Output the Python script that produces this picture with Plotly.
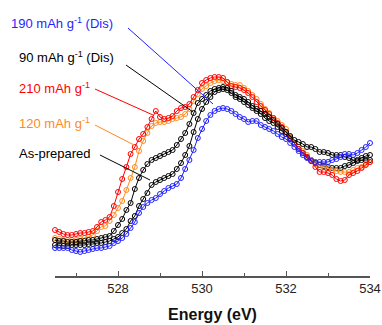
import numpy as np
import plotly.graph_objects as go

# Energy grid (eV), 0.1 eV steps
energy = np.round(526.5 + 0.1 * np.arange(76), 1)

# Normalised O K-edge intensities (a.u.)
as_prepared = [31, 31, 30, 30, 31, 31, 31, 31, 32, 32, 33, 33, 34, 35, 37, 39, 43, 47, 55, 60,
               70, 77, 83, 91, 94, 96, 98, 100, 102, 107, 113, 121, 130, 144, 157, 167, 174, 179, 184, 186,
               187, 186, 183, 179, 177, 174, 171, 168, 165, 162, 158, 155, 153, 149, 145, 142, 137, 133, 127, 123,
               119, 116, 113, 111, 110, 109, 108, 108, 108, 110, 111, 113, 115, 116, 116, 116]
chg_120 = [38, 37, 36, 36, 36, 36, 37, 38, 39, 41, 45, 49, 50, 55, 61, 68, 75, 86, 98, 109,
           125, 135, 143, 150, 153, 154, 154, 155, 157, 158, 159, 162, 167, 175, 182, 187, 190, 193, 195, 196,
           195, 194, 192, 191, 191, 188, 185, 181, 177, 172, 167, 163, 158, 155, 151, 147, 139, 133, 129, 125,
           121, 116, 112, 109, 109, 108, 106, 105, 104, 104, 104, 106, 108, 109, 112, 114]
chg_210 = [46, 44, 42, 41, 41, 42, 43, 43, 44, 45, 49, 54, 56, 59, 70, 84, 97, 109, 122, 129,
           137, 142, 149, 157, 165, 159, 157, 158, 160, 165, 168, 169, 172, 179, 186, 193, 196, 198, 199, 199,
           198, 194, 190, 189, 188, 186, 183, 179, 174, 170, 166, 162, 158, 153, 149, 144, 138, 132, 127, 123,
           119, 115, 109, 104, 104, 103, 101, 97, 95, 96, 101, 103, 105, 108, 111, 114]
dis_90 = [36, 35, 35, 34, 34, 34, 35, 35, 36, 36, 37, 38, 39, 40, 45, 51, 57, 66, 73, 87,
          98, 106, 112, 116, 118, 120, 122, 124, 126, 131, 137, 143, 152, 163, 173, 177, 181, 185, 187, 188,
          189, 188, 185, 181, 179, 177, 174, 170, 167, 165, 162, 159, 156, 152, 148, 144, 140, 136, 134, 132,
          129, 129, 127, 124, 124, 123, 121, 121, 121, 119, 118, 116, 116, 118, 120, 121]
dis_190 = [28, 28, 28, 28, 26, 25, 24, 25, 26, 27, 28, 28, 29, 30, 33, 35, 38, 42, 48, 54,
           63, 69, 73, 76, 78, 82, 85, 88, 90, 92, 98, 107, 116, 126, 138, 147, 155, 161, 165, 167,
           168, 167, 165, 162, 159, 157, 154, 155, 155, 151, 149, 147, 145, 142, 139, 137, 133, 129, 125, 121,
           118, 115, 114, 114, 114, 114, 116, 117, 119, 122, 122, 121, 123, 126, 129, 133]

labels = ["As-prepared", "120 mAh g<sup>-1</sup>", "210 mAh g<sup>-1</sup>",
          "90 mAh g<sup>-1</sup> (Dis)", "190 mAh g<sup>-1</sup> (Dis)"]
series = [as_prepared, chg_120, chg_210, dis_90, dis_190]
colors = ["#000000", "#ff8a1e", "#ff0000", "#000000", "#1f1fff"]

# label anchor (left edge, paper units) and leader-line endpoints (data units)
label_pos = [(-0.121, 0.477), (-0.121, 0.598), (-0.121, 0.734), (-0.121, 0.855), (-0.146, 0.99)]
leaders = [((527.571, 121), (528.762, 96)),
           ((527.452, 151), (528.381, 131)),
           ((527.452, 187), (528.833, 161)),
           ((528.19, 211), (529.786, 164)),
           ((528.238, 248), (530.262, 172))]

fig = go.Figure()
for name, ys, c in zip(labels, series, colors):
    fig.add_trace(go.Scatter(
        x=energy, y=ys, mode="lines+markers", name=name,
        line=dict(color=c, width=1),
        marker=dict(symbol="circle-open", size=5, color=c, line=dict(width=1)),
        cliponaxis=False, showlegend=False))

for name, c, (lx, ly), ((x0, y0), (x1, y1)) in zip(labels, colors, label_pos, leaders):
    fig.add_shape(type="line", xref="x", yref="y", x0=x0, y0=y0, x1=x1, y1=y1,
                  line=dict(color=c, width=1))
    fig.add_annotation(x=lx, y=ly, xref="paper", yref="paper", text=name, showarrow=False,
                       xanchor="left", yanchor="middle",
                       font=dict(family="Liberation Sans, Arial", size=13, color=c))

fig.update_layout(
    width=382, height=325,
    margin=dict(l=55, r=12, t=20, b=49),
    paper_bgcolor="white", plot_bgcolor="white",
    font=dict(family="Liberation Sans, Arial", size=13, color="#222222"),
    xaxis=dict(range=[526.5, 534], dtick=2, tick0=528, automargin=False,
               showline=True, linecolor="#555555", linewidth=1.5,
               ticks="inside", ticklen=5, tickwidth=1.2, tickcolor="#555555",
               minor=dict(dtick=1, ticks="inside", ticklen=3, tickcolor="#555555", tickwidth=1.2),
               showgrid=False, zeroline=False,
               tickfont=dict(size=13, color="#222222"),
               title=dict(text="<b>Energy (eV)</b>", font=dict(size=16, color="#111111"), standoff=13)),
    yaxis=dict(range=[0, 256], visible=False, automargin=False),
)

fig.write_html("out.html")
